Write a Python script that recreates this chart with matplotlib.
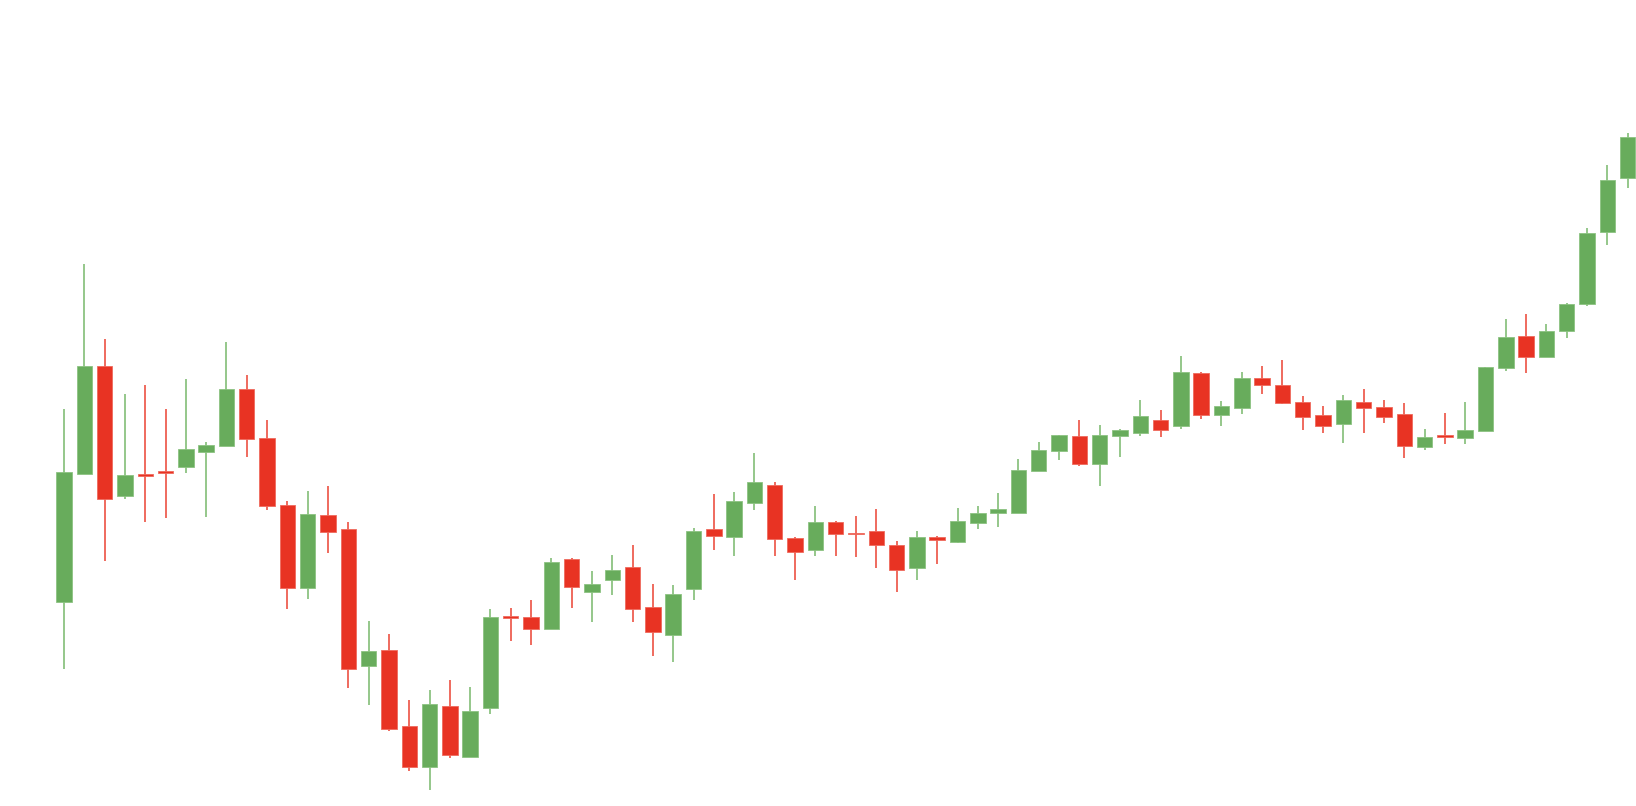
import matplotlib
matplotlib.use("Agg")
import matplotlib.pyplot as plt
import numpy as np

# OHLC values (arbitrary price units)
opens = [204, 331.7, 440, 310, 331.5, 334.5, 338.7, 354.3, 360.3, 417.3,
         368.3, 301, 218.3, 291, 276.7, 139.7, 156.3, 80, 39.3, 100.3,
         49.3, 98, 189.7, 189.3, 177, 246.7, 214, 225.7, 239.3, 199.3,
         171, 217, 276.7, 268.7, 303, 321, 268, 255.7, 283.7, 273,
         275.3, 261, 238.3, 269.3, 264, 283, 293, 293, 334.7, 355,
         370, 341.7, 370.3, 373.3, 385.7, 380.3, 433, 390.7, 397.7, 428.3,
         421.3, 404.3, 391.5, 382, 404.3, 398.7, 391.7, 359, 370.2, 367.7,
         374.7, 437.7, 470.3, 449, 475, 502.3, 573.7, 628.3]
highs = [397, 542, 467.3, 411.7, 421.3, 397, 427, 363.7, 464.3, 431.3,
         385.7, 305.3, 315.3, 319.7, 283.7, 185, 172, 106.3, 116, 126.3,
         119, 196.7, 197.7, 206.3, 248, 248, 235, 251, 261, 222.3,
         220.7, 278, 312.3, 313.7, 352.7, 323.7, 269.3, 299.7, 285, 289.7,
         296.7, 265, 275.3, 270.3, 298.3, 299.7, 312.7, 347, 364.3, 371.3,
         386, 381.3, 377, 405.7, 396, 450.3, 434.3, 404.7, 434.3, 440.3,
         446, 410, 400, 411.3, 417.3, 405.7, 402.7, 377, 392.7, 404.3,
         438.7, 487.3, 491.7, 481.7, 503.3, 577.7, 640.7, 673.3]
lows = [136.7, 331.7, 245.3, 307, 284, 288.3, 333, 288.7, 360.3, 348.7,
        295.7, 196.7, 206.7, 252.7, 117.7, 100.7, 75, 34.7, 16, 47.7,
        49.3, 92.3, 165.3, 161, 177, 198, 184, 211.3, 184, 149.7,
        144, 205.7, 255.7, 250, 296, 249.7, 225.7, 250, 250, 248.7,
        238.3, 214.3, 226, 241.7, 262.7, 277.3, 278.7, 293, 334.7, 346,
        340, 320.3, 349, 370.3, 369, 377.3, 387.3, 380, 391.7, 411.7,
        401.7, 376, 373, 363.3, 373, 383, 347.7, 356, 361.7, 361.7,
        374.7, 434.7, 433.3, 449, 467.7, 500.3, 561, 618.3]
closes = [334, 440, 307, 331.3, 330, 333, 356.7, 361.3, 417.3, 367.3,
          300.3, 218.3, 292.3, 274.3, 136.7, 154.7, 76.7, 39.3, 101.7, 50.7,
          94.7, 189.3, 188, 177, 243.7, 218.7, 222.3, 236.3, 196.7, 173.7,
          212.3, 275.3, 270, 305.3, 324, 267, 254.3, 283.7, 271.7, 271.7,
          261.3, 236, 269.3, 266.5, 285.3, 292.7, 297, 335.7, 355.7, 371.3,
          341.7, 371.3, 375.7, 390, 376.3, 434.3, 390.7, 399.7, 428.3, 420.7,
          403.3, 389, 380.5, 405.7, 397.7, 389, 360.3, 368.7, 369, 375.7,
          438.7, 468.7, 449, 474.7, 501.7, 573.3, 626.3, 669.3]

UP_BODY = "#68ac5c"
UP_WICK = "#7dbb71"
DOWN_BODY = "#e83323"
DOWN_WICK = "#ec4a3b"

o = np.array(opens, dtype=float)
h = np.array(highs, dtype=float)
l = np.array(lows, dtype=float)
c = np.array(closes, dtype=float)
x = np.arange(len(o))
up = c > o

fig = plt.figure(figsize=(16.36, 8.06), dpi=100)
ax = fig.add_axes([0, 0, 1, 1])

wick_colors = [UP_WICK if u else DOWN_WICK for u in up]
body_colors = [UP_BODY if u else DOWN_BODY for u in up]
edge_colors = ["#8cc381" if u else "#ef6a5d" for u in up]

ax.vlines(x, l, h, colors=wick_colors, linewidth=1.15, zorder=1)

bottoms = np.minimum(o, c)
heights = np.maximum(np.abs(c - o), 1.6)
ax.bar(x, heights, bottom=bottoms, width=0.76, color=body_colors,
       edgecolor=edge_colors, linewidth=0.6, zorder=2)

ax.set_xlim(-3.152, 77.412)
ax.set_ylim(0, 806)
ax.axis("off")

fig.savefig("out.png", dpi=100, facecolor="white")
